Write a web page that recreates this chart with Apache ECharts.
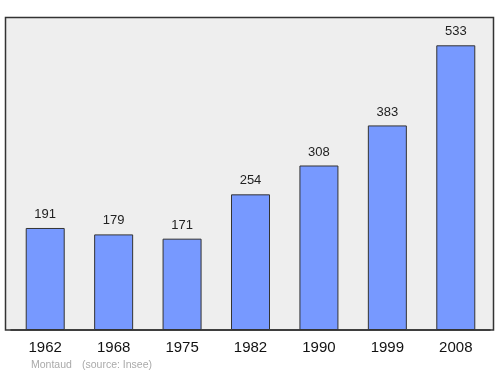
<!DOCTYPE html>
<html><head><meta charset="utf-8">
<script src="https://cdn.jsdelivr.net/npm/echarts@6/dist/echarts.min.js"></script>
<style>html,body{margin:0;padding:0;background:#fff}#c{width:500px;height:374px}</style>
</head><body><div id="c"></div>
<script>
var years = ['1962','1968','1975','1982','1990','1999','2008'];
var population = [191,179,171,254,308,383,533];
var placeName = 'Montaud';
var sourceName = '(source: Insee)';

var chart = echarts.init(document.getElementById('c'), null, {renderer:'canvas'});
chart.setOption({
  animation:false,
  graphic:[
    {type:'rect', z:-10, shape:{x:5.5,y:17.5,width:488,height:312.5}, style:{fill:'#eeeeee', stroke:'#333333', lineWidth:1.5}},
    {type:'text', left:31, top:360, style:{text:placeName, fill:'#aaaaaa', font:'10.5px "Liberation Sans", Arial, sans-serif'}},
    {type:'text', left:82, top:360, style:{text:sourceName, fill:'#aaaaaa', font:'10.5px "Liberation Sans", Arial, sans-serif'}}
  ],
  grid:{left:11, top:17, width:479, bottom:44},
  xAxis:{type:'category', data:years,
    axisLine:{show:true, lineStyle:{color:'#333333', width:1.5}}, axisTick:{show:false},
    axisLabel:{color:'#111', fontSize:15, margin:10, fontFamily:'Liberation Sans'}},
  yAxis:{type:'value', min:0, max:586, show:false, splitLine:{show:false}},
  series:[{type:'bar', data:population, barWidth:39,
    itemStyle:{color:'#7799ff', borderColor:'#333333', borderWidth:1},
    label:{show:true, position:'top', distance:7, color:'#222', fontSize:13, fontFamily:'Liberation Sans'}}]
});
</script></body></html>
